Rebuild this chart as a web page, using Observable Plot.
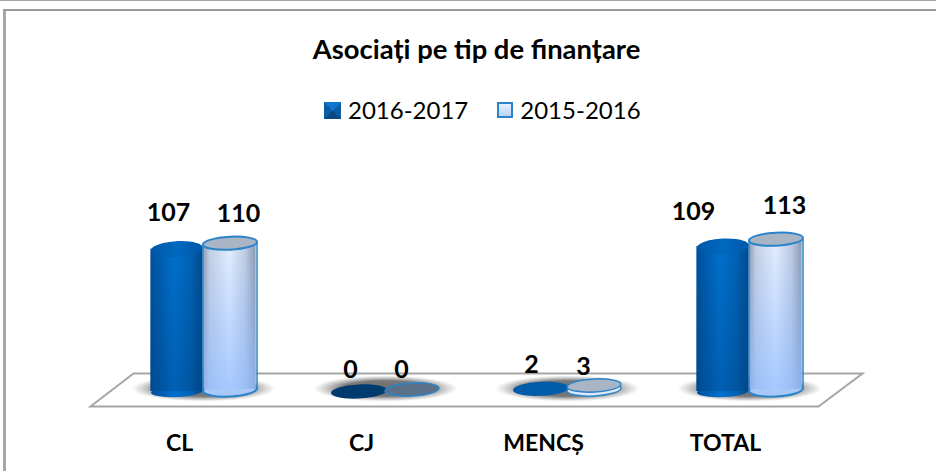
<!DOCTYPE html>
<html><head><meta charset="utf-8">
<script src="https://cdn.jsdelivr.net/npm/d3@7"></script>
<script src="https://cdn.jsdelivr.net/npm/@observablehq/plot@0.6"></script>
<style>
html,body{margin:0;padding:0;background:#fff;overflow:hidden}
#page{position:relative;width:936px;height:471px;font-family:Lato,sans-serif;color:#000;overflow:hidden}
#border{position:absolute;left:3px;top:9px;width:940px;height:480px;border-top:2px solid #999;border-left:3px solid #a6a6a6}
#topline{position:absolute;left:0;top:0;width:936px;height:1px;background:#a6a6a6}
#head{position:relative;height:130px}
#title{position:absolute;left:0;width:953px;top:33px;text-align:center;font-weight:700;font-size:27.4px;line-height:32px}
#legend{position:absolute;left:324px;top:96px;display:flex;align-items:center;font-size:24px;line-height:28px}
.sw{width:17px;height:17px;margin-right:7px;box-sizing:border-box}
#s1{background:conic-gradient(from -45deg,#1174cc 0 25%,#0d5ba5 25% 50%,#0a4680 50% 75%,#0d5ba5 75%)}
#s2{width:16px;height:16px;background:linear-gradient(#e4eeff,#bcd4f5);border:2px solid #2b84c8;margin-left:29px}
#chart svg{display:block}
</style></head>
<body><div id="page">
<div id="topline"></div>
<div id="border"></div>
<div id="head">
<div id="title">Asociați pe tip de finanțare</div>
<div id="legend"><div class="sw" id="s1"></div><span>2016-2017</span><div class="sw" id="s2"></div><span>2015-2016</span></div>
</div>
<div id="chart"></div>
</div>
<script>
const categories = ["CL", "CJ", "MENCȘ", "TOTAL"];
const values2016 = [107, 0, 2, 109];
const values2015 = [110, 0, 3, 113];

const rows2016 = categories.map((cat, i) => ({cat, value: values2016[i]}));
const rows2015 = categories.map((cat, i) => ({cat, value: values2015[i]}));

// d3 symbol: tilted ellipse
function ellipse(rx, ry, deg) {
  const t = deg * Math.PI / 180, c = Math.cos(t), s = Math.sin(t), k = 0.5523;
  const P = (x, y) => [x * c - y * s, x * s + y * c];
  return {draw(ctx) {
    ctx.moveTo(...P(rx, 0));
    ctx.bezierCurveTo(...P(rx, k * ry), ...P(k * rx, ry), ...P(0, ry));
    ctx.bezierCurveTo(...P(-k * rx, ry), ...P(-rx, k * ry), ...P(-rx, 0));
    ctx.bezierCurveTo(...P(-rx, -k * ry), ...P(-k * rx, -ry), ...P(0, -ry));
    ctx.bezierCurveTo(...P(k * rx, -ry), ...P(rx, -k * ry), ...P(rx, 0));
    ctx.closePath();
  }};
}
const floorSymbol = {draw(ctx) {
  ctx.moveTo(-342.5, -18); ctx.lineTo(386.5, -18); ctx.lineTo(342.5, 15); ctx.lineTo(-385.5, 15); ctx.closePath();
}};

const defs = () => {
  const d = d3.create("svg:defs");
  const grad = (id, stops, vertical, radial) => {
    const g = d.append(radial ? "radialGradient" : "linearGradient").attr("id", id);
    if (vertical) g.attr("x1", 0).attr("y1", 0).attr("x2", 0).attr("y2", 1);
    stops.forEach(([o, c, a]) => g.append("stop").attr("offset", o).attr("stop-color", c).attr("stop-opacity", a ?? 1));
  };
  grad("dark", [[0, "#00509a"], [0.45, "#0070cd"], [0.75, "#0063b6"], [1, "#004a8e"]]);
  grad("darkV", [[0, "#003a75", 0], [1, "#003a75", 0.3]], true);
  grad("darkCap", [[0, "#0058a8"], [0.5, "#0068bf"], [1, "#0058a8"]]);
  grad("light", [[0, "#8f9db4"], [0.12, "#c4cfe0"], [0.5, "#e4efff"], [0.8, "#bfcce0"], [1, "#8a99b2"]]);
  grad("lightV", [[0, "#8db8ff", 0], [1, "#8db8ff", 0.7]], true);
  grad("shadow", [[0, "#6e6e6e", 1], [0.6, "#787878", 1], [1, "#999", 0]], false, true);
  return d.node();
};

const HALF = 26.5, INSET = 91.375 - HALF, DY = -2;
const darkBody = {x: "cat", y: "value", dx: -HALF, insetLeft: INSET, insetRight: INSET};
const lightBody = {x: "cat", y: "value", dx: HALF, dy: DY, insetLeft: INSET, insetRight: INSET};
const LIGHT_STROKE = "#2b84c8";

// label nudges relative to the top of each cylinder
const label = (row, dx, dy) => Plot.text([row], {
  x: "cat", y: "value", text: d => String(d.value), dx, dy,
  fontWeight: 700, fontSize: 25, fill: "#000", fontFamily: "Lato"
});

const plot = Plot.plot({
  width: 936, height: 341,
  marginLeft: 110, marginRight: 95, marginTop: 61.5, marginBottom: 80,
  x: {type: "band", domain: categories, padding: 0, label: null},
  y: {domain: [0, 150], axis: null},
  style: {background: "transparent", fontFamily: "Lato"},
  marks: [
    defs,
    Plot.dot([0], {frameAnchor: "bottom", symbol: floorSymbol, fill: "#fff", stroke: "#a6a6a6", strokeWidth: 2}),
    Plot.dot(rows2016, {x: "cat", y: () => 0, dy: -3, symbol: ellipse(72, 13, 0), fill: "url(#shadow)"}),
    // 2016-2017 cylinders
    Plot.dot(rows2016.filter(d => d.value > 5), {x: "cat", y: () => 0, dx: -HALF, symbol: ellipse(26, 5.5, -3), fill: "url(#dark)"}),
    Plot.barY(rows2016.filter(d => d.value > 5), {...darkBody, fill: "url(#dark)"}),
    Plot.barY(rows2016.filter(d => d.value > 5), {...darkBody, fill: "url(#darkV)"}),
    Plot.dot(rows2016.filter(d => d.value > 5), {x: "cat", y: "value", dx: -HALF, symbol: ellipse(26, 8, -3), fill: "url(#darkCap)"}),
    Plot.dot(rows2016.filter(d => d.value > 0 && d.value <= 5), {x: "cat", y: "value", dx: -HALF, symbol: ellipse(28, 7, -3), fill: "#005cab"}),
    Plot.dot(rows2016.filter(d => d.value === 0), {x: "cat", y: "value", dx: -HALF, symbol: ellipse(28, 7, -3), fill: "#003b70"}),
    // 2015-2016 cylinders
    Plot.dot(rows2015.filter(d => d.value > 5), {x: "cat", y: () => 0, dx: HALF, dy: DY, symbol: ellipse(27, 7, -3), fill: "#a9c8f8", stroke: LIGHT_STROKE, strokeWidth: 2}),
    Plot.barY(rows2015.filter(d => d.value > 5), {...lightBody, fill: "url(#light)"}),
    Plot.barY(rows2015.filter(d => d.value > 5), {...lightBody, fill: "url(#lightV)"}),
    Plot.ruleX(rows2015.filter(d => d.value > 5), {x: "cat", y1: () => 0, y2: "value", dx: HALF - 27, dy: DY, stroke: LIGHT_STROKE, strokeWidth: 1.5}),
    Plot.ruleX(rows2015.filter(d => d.value > 5), {x: "cat", y1: () => 0, y2: "value", dx: HALF + 27, dy: DY, stroke: LIGHT_STROKE, strokeWidth: 1.5}),
    Plot.dot(rows2015.filter(d => d.value > 5), {x: "cat", y: "value", dx: HALF, dy: DY, symbol: ellipse(27, 6.5, -3), fill: "#a9b4c4", stroke: LIGHT_STROKE, strokeWidth: 2}),
    Plot.dot(rows2015.filter(d => d.value > 0 && d.value <= 5), {x: "cat", y: () => 0, dx: HALF, dy: DY, symbol: ellipse(27, 6.5, -3), fill: "#dbe7fb", stroke: LIGHT_STROKE, strokeWidth: 1.5}),
    Plot.dot(rows2015.filter(d => d.value > 0 && d.value <= 5), {x: "cat", y: "value", dx: HALF, dy: DY, symbol: ellipse(27, 6.5, -3), fill: "#a9b4c4", stroke: LIGHT_STROKE, strokeWidth: 1.5}),
    Plot.dot(rows2015.filter(d => d.value === 0), {x: "cat", y: "value", dx: HALF, dy: DY, symbol: ellipse(27, 6.5, -3), fill: "#5a7088", stroke: LIGHT_STROKE, strokeWidth: 1.5}),
    // value labels
    label(rows2016[0], -35, -36), label(rows2015[0], 35, -31),
    label(rows2016[1], -35, -22), label(rows2015[1], 16, -22),
    label(rows2016[2], -36, -24), label(rows2015[2], 16, -21),
    label(rows2016[3], -56, -35), label(rows2015[3], 35, -35),
    // category axis
    Plot.axisX({domain: categories, anchor: "bottom", tickSize: 0, tickPadding: 43, dx: -24, fontSize: 23, fontWeight: 700, fontFamily: "Lato", fill: "#000", label: null})
  ]
});
document.getElementById("chart").append(plot);
</script>
</body></html>
